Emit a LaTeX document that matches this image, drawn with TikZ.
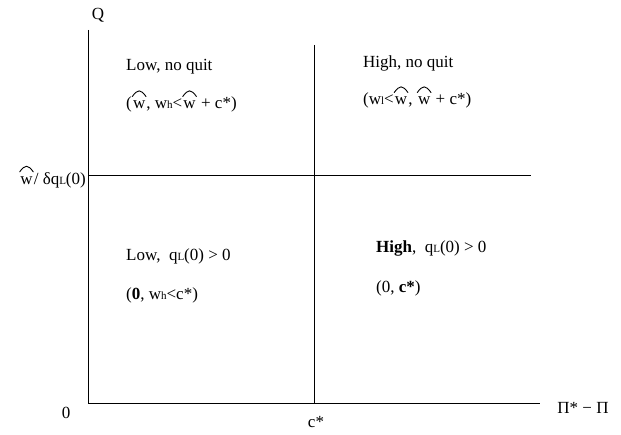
\documentclass[tikz,border=0pt]{standalone}
\usepackage{fontspec}
\setmainfont{Liberation Serif}
\newcommand{\hw}{\tikz[baseline=(hwchar.base)]{\node[inner sep=0pt] (hwchar) {w};
  \draw[line width=0.9pt,line cap=round] ([xshift=-0.5pt,yshift=4.5pt]hwchar.north west) .. controls ([xshift=-1.5pt,yshift=12pt]hwchar.north) and ([xshift=1.5pt,yshift=12pt]hwchar.north) .. ([xshift=0.5pt,yshift=4.5pt]hwchar.north east);}}
\newcommand{\sbs}[1]{{\fontsize{11}{11}\selectfont #1}}
\begin{document}
\begin{tikzpicture}[x=1pt,y=1pt,
  axisline/.style={line width=1pt},
  lab/.style={inner sep=0pt,font=\fontsize{17}{20}\selectfont},
  region/.style={lab,anchor=base west}]
\useasboundingbox (0,0) rectangle (621,435);
\coordinate (O) at (88,31);
\coordinate (ytop) at (88,405);
\coordinate (xend) at (540,31);
\coordinate (hl) at (88,259);
\coordinate (hr) at (531,259);
\coordinate (vt) at (314,390);
\coordinate (vb) at (314,31);
\draw[axisline] (ytop) -- (O) -- (xend);
\draw[axisline] (hl) -- (hr);
\draw[axisline] (vt) -- (vb);
\node[lab] (Q) at (98,420) {Q};
\node[lab] (zero) at (66,22) {0};
\node[lab] (cstar) at (316,13) {c*};
\node[lab] (pi) at (583,27) {Π* − Π};
\node[lab,anchor=east] (wq) at (86,259) {\hw/ δq\sbs{L}(0)};
\node[region] (r1a) at (126,364) {Low, no quit};
\node[region] (r1b) at (126,326) {(\hw, w\sbs{h}<\hw\ + c*)};
\node[region] (r2a) at (363,367) {High, no quit};
\node[region] (r2b) at (363,330) {(w\sbs{l}<\hw, \hw\ + c*)};
\node[region] (r3a) at (126,174) {Low,\ \ q\sbs{L}(0) > 0};
\node[region] (r3b) at (126,135) {(\textbf{0}, w\sbs{h}<c*)};
\node[region] (r4a) at (376,182) {\textbf{High},\ \ q\sbs{L}(0) > 0};
\node[region] (r4b) at (376,142) {(0, \textbf{c*})};
\end{tikzpicture}
\end{document}
